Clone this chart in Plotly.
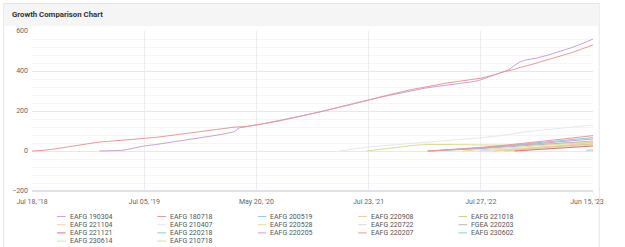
import plotly.graph_objects as go

# ---- data -------------------------------------------------------------
tick_pos = [0, 20, 40, 60, 80, 100]
tick_labels = ["Jul 18, '18", "Jul 05, '19", "May 20, '20", "Jul 23, '21", "Jul 27, '22", "Jun 15, '23"]

names = ["EAFG 190304", "EAFG 180718", "EAFG 200519", "EAFG 220908", "EAFG 221018",
         "EAFG 221104", "EAFG 210407", "EAFG 220528", "EAFG 220722", "FGEA 220203",
         "EAFG 221121", "EAFG 220218", "EAFG 220205", "EAFG 220207", "EAFG 230602",
         "EAFG 230614", "EAFG 210718"]

colors = ["#c9a3d3", "#e9999b", "#8fcfe0", "#f4c9a0", "#cfd08e",
          "#f3d4ae", "#e3e8ef", "#dde39c", "#d9d9d9", "#b9b9b9",
          "#d9737c", "#8cc9df", "#c7a4d6", "#e9999b", "#8fcfe0",
          "#f3d4ae", "#d8de8e"]

x_190304 = [12, 14, 16, 17, 18, 20, 22, 24, 26, 28, 30, 32, 34, 35, 36, 37, 38, 40, 42, 44, 46, 48, 50, 52, 54, 56, 58, 60,
            62, 64, 66, 68, 70, 72, 74, 76, 78, 79, 80, 81, 82, 83, 84, 85, 86, 87, 88, 90, 92, 94, 96, 98, 100]
y_190304 = [0, 1, 3, 8, 14, 25, 32, 40, 50, 58, 66, 75, 84, 90, 96, 116, 120, 130, 141, 152, 163, 175, 187, 200, 214, 228, 241, 255,
            268, 280, 292, 303, 314, 322, 329, 336, 342, 348, 356, 366, 378, 388, 396, 406, 428, 446, 455, 465, 480, 496, 515, 536, 560]

x_180718 = [0, 2, 4, 6, 8, 10, 12, 14, 16, 18, 20, 22, 24, 26, 28, 30, 32, 34, 35, 36, 38, 40, 42, 44, 46, 48, 50, 52, 54, 56, 58, 60,
            62, 64, 66, 68, 70, 72, 74, 76, 78, 80, 82, 84, 86, 87, 88, 90, 92, 94, 96, 98, 100]
y_180718 = [0, 3, 10, 18, 27, 37, 45, 49, 53, 57, 62, 68, 75, 82, 90, 96, 103, 112, 117, 119, 122, 130, 140, 150, 162, 175, 187, 200, 214, 228, 243, 258,
            272, 285, 297, 309, 320, 330, 340, 348, 356, 364, 378, 395, 408, 418, 424, 440, 456, 472, 490, 510, 530]

x_200519, y_200519 = [], []
x_220908 = [82.2, 86, 90, 95, 100]
y_220908 = [0, 8, 17, 29, 42]
x_221018 = [84.2, 88, 92, 96, 100]
y_221018 = [0, 8, 17, 26, 35]
x_221104 = [85, 90, 95, 100]
y_221104 = [0, 10, 20, 30]
x_210407 = [54.8, 60, 65, 70, 75, 80, 85, 87, 90, 95, 100]
y_210407 = [0, 20, 32, 44, 55, 66, 82, 93, 102, 116, 130]
x_220528 = [76.7, 80, 85, 90, 95, 100]
y_220528 = [0, 6, 15, 24, 35, 45]
x_220722 = [79.7, 85, 90, 95, 100]
y_220722 = [0, 9, 18, 27, 36]
x_220203 = [70.5, 75, 80, 85, 90, 95, 100]
y_220203 = [0, 5, 12, 21, 30, 40, 50]
x_221121 = [86, 90, 95, 100]
y_221121 = [0, 7, 16, 25]
x_220218 = [71.3, 75, 80, 85, 90, 95, 100]
y_220218 = [0, 6, 16, 28, 41, 54, 67]
x_220205 = [70.7, 75, 80, 85, 90, 95, 100]
y_220205 = [0, 5, 14, 25, 36, 48, 60]
x_220207 = [70.5, 75, 80, 85, 90, 95, 100]
y_220207 = [0, 7, 18, 31, 45, 61, 77]
x_230602 = [98.8, 100]
y_230602 = [3, 5]
x_230614 = [99.8, 100]
y_230614 = [0, 1]
x_210718 = [59.6, 62, 65, 68, 70.4, 75, 81.3, 85, 90, 95, 100]
y_210718 = [0, 8, 19, 28, 33, 31, 28, 29, 33, 39, 46]

series_x = [x_190304, x_180718, x_200519, x_220908, x_221018, x_221104, x_210407, x_220528, x_220722,
            x_220203, x_221121, x_220218, x_220205, x_220207, x_230602, x_230614, x_210718]
series_y = [y_190304, y_180718, y_200519, y_220908, y_221018, y_221104, y_210407, y_220528, y_220722,
            y_220203, y_221121, y_220218, y_220205, y_220207, y_230602, y_230614, y_210718]

y_ticks = [-200, 0, 200, 400, 600]

# ---- figure -----------------------------------------------------------
W, H = 625, 247
ML, MR, MT, MB = 32, 9, 31, 56
PW, PH = W - ML - MR, H - MT - MB

def px(x):
    return (x - ML) / PW

def py(y):
    return (H - MB - y) / PH

fig = go.Figure()
# draw order: background series first, then the two long series on top
order = [6, 16, 9, 7, 8, 3, 4, 5, 10, 11, 12, 13, 14, 15, 2, 0, 1]
for i in order:
    fig.add_trace(go.Scatter(x=series_x[i], y=series_y[i], mode="lines", name=names[i],
                             line=dict(color=colors[i], width=1), showlegend=False))

shapes = []
annotations = []
# panel border + header
shapes.append(dict(type="rect", xref="paper", yref="paper", x0=px(2.5), x1=px(622.5), y0=py(260), y1=py(3.5),
                   line=dict(color="#e6e6e6", width=1), fillcolor="rgba(0,0,0,0)", layer="below"))
shapes.append(dict(type="rect", xref="paper", yref="paper", x0=px(3), x1=px(622), y0=py(26), y1=py(4),
                   line=dict(width=0), fillcolor="#f5f5f5", layer="below"))
annotations.append(dict(text="<b>Growth Comparison Chart</b>", xref="paper", yref="paper", x=px(9), y=py(14.5),
                        xanchor="left", yanchor="middle", showarrow=False,
                        font=dict(family="Roboto", size=7.8, color="#333333")))

# legend drawn below the chart, 5 columns
col_x = [58, 162.5, 267, 371.5, 476]
row_y = [216.5, 224.7, 232.9, 241.1]
for k, nm in enumerate(names):
    r, c = divmod(k, 5)
    lx, ly = col_x[c], row_y[r]
    shapes.append(dict(type="line", xref="paper", yref="paper", x0=px(lx), x1=px(lx + 9), y0=py(ly), y1=py(ly),
                       line=dict(color=colors[k], width=1)))
    annotations.append(dict(text=nm, xref="paper", yref="paper", x=px(lx + 11), y=py(ly),
                            xanchor="left", yanchor="middle", showarrow=False,
                            font=dict(family="Roboto", size=7, color="#555555")))

# last x label shifted left so it stays inside the page (as in the reference)
x_ticktext = tick_labels[:-1] + [tick_labels[-1] + "&nbsp;" * 7]

fig.update_layout(
    width=W, height=H,
    margin=dict(l=ML, r=MR, t=MT, b=MB),
    paper_bgcolor="white", plot_bgcolor="rgba(0,0,0,0)",
    showlegend=False,
    font=dict(family="Roboto", size=7, color="#666666"),
    shapes=shapes, annotations=annotations,
    xaxis=dict(range=[0, 100], tickvals=tick_pos, ticktext=x_ticktext, showgrid=True,
               gridcolor="#ececec", gridwidth=1, zeroline=False, showline=False, ticks="",
               ticklabelstandoff=5, ticklabeloverflow="allow",
               tickfont=dict(size=7, color="#666666"), fixedrange=True),
    yaxis=dict(range=[-200, 600], tickvals=y_ticks, showgrid=True, gridcolor="#e8e8e8",
               zeroline=False, showline=False, ticks="", ticklabelstandoff=3,
               minor=dict(dtick=40, tick0=0, showgrid=True, gridcolor="#f5f5f5", gridwidth=1),
               tickfont=dict(size=7, color="#666666"), fixedrange=True),
)
# bottom axis line
fig.add_shape(type="line", xref="paper", yref="paper", x0=0, x1=1, y0=0, y1=0,
              line=dict(color="#dde2e8", width=2))

fig.write_html("out.html")
